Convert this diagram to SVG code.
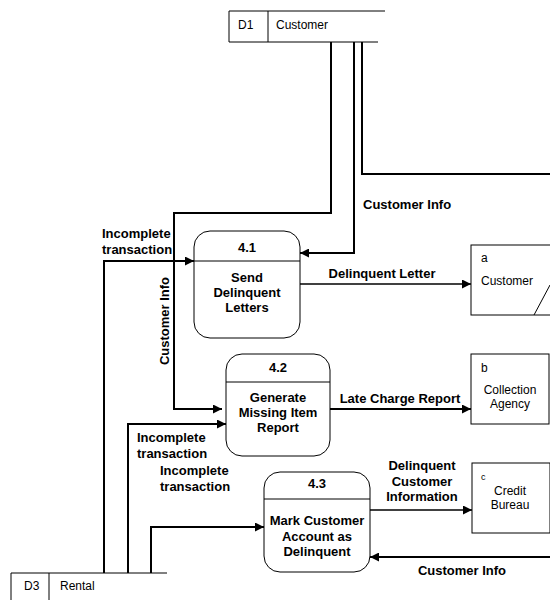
<svg xmlns="http://www.w3.org/2000/svg" width="550" height="600" viewBox="0 0 550 600">
<defs>
<style>
.flow{fill:none;stroke:#000;stroke-width:2}
.thin{fill:none;stroke:#000;stroke-width:1.5}
.box{fill:#fff;stroke:#000;stroke-width:1}
.proc{fill:#fff;stroke:#000;stroke-width:1}
.lbl{font-family:"Liberation Sans",Arial,sans-serif;font-size:13px;font-weight:bold;fill:#000}
.ptxt{font-family:"Liberation Sans",Arial,sans-serif;font-size:13px;font-weight:bold;fill:#000;text-anchor:middle}
.etxt{font-family:"Liberation Sans",Arial,sans-serif;font-size:12px;fill:#000}
</style>
<marker id="ah" viewBox="0 0 10 10" refX="10" refY="5" markerWidth="10" markerHeight="9" markerUnits="userSpaceOnUse" orient="auto">
<path d="M0,0 L10,5 L0,10 Z" fill="#000"/>
</marker>
</defs>
<rect width="550" height="600" fill="#fff"/>

<g id="connectors">
<path class="flow" d="M331,42 V213 H174 V409 H222" marker-end="url(#ah)"/>
<path class="flow" d="M354,42 V253 H300" marker-end="url(#ah)"/>
<path class="flow" d="M362,42 V174 H550"/>
<path class="flow" d="M104,573 V261 H194" marker-end="url(#ah)"/>
<path class="flow" d="M128,573 V424 H226" marker-end="url(#ah)"/>
<path class="flow" d="M151,573 V527 H264" marker-end="url(#ah)"/>
<path class="thin" d="M300,284 H471" marker-end="url(#ah)"/>
<path class="flow" d="M330,409 H471" marker-end="url(#ah)"/>
<path class="thin" d="M370,510 H472" marker-end="url(#ah)"/>
<path class="flow" d="M550,557 H370" marker-end="url(#ah)"/>

<text class="lbl" x="363" y="209">Customer Info</text>
<text class="lbl" x="102" y="238">Incomplete</text>
<text class="lbl" x="102" y="254">transaction</text>
<text class="lbl" transform="translate(169,321) rotate(-90)" text-anchor="middle">Customer Info</text>
<text class="lbl" x="382" y="278" text-anchor="middle">Delinquent Letter</text>
<text class="lbl" x="400" y="403" text-anchor="middle">Late Charge Report</text>
<text class="lbl" x="137" y="442">Incomplete</text>
<text class="lbl" x="137" y="458">transaction</text>
<text class="lbl" x="160" y="475">Incomplete</text>
<text class="lbl" x="160" y="491">transaction</text>
<text class="lbl" x="422" y="470" text-anchor="middle">Delinquent</text>
<text class="lbl" x="422" y="486" text-anchor="middle">Customer</text>
<text class="lbl" x="422" y="501" text-anchor="middle">Information</text>
<text class="lbl" x="462" y="575" text-anchor="middle">Customer Info</text>
</g>

<g id="D1">
<rect x="229" y="11" width="160" height="31" fill="#fff" stroke="none"/>
<path d="M385,11 H229 V42 H378 M268,11 V42" fill="none" stroke="#000" stroke-width="1"/>
<text class="etxt" x="238" y="29">D1</text>
<text class="etxt" x="276" y="29">Customer</text>
</g>

<g id="D3">
<path d="M167,573 H11 V600 M49,573 V600" fill="none" stroke="#000" stroke-width="1"/>
<text class="etxt" x="24" y="590">D3</text>
<text class="etxt" x="60" y="590">Rental</text>
</g>

<g id="p41">
<rect class="proc" x="194" y="231" width="106" height="107" rx="16" ry="16"/>
<line x1="194" y1="261" x2="300" y2="261" stroke="#000" stroke-width="1"/>
<text class="ptxt" x="247" y="252">4.1</text>
<text class="ptxt" x="247" y="282">Send</text>
<text class="ptxt" x="247" y="297">Delinquent</text>
<text class="ptxt" x="247" y="312">Letters</text>
</g>

<g id="p42">
<rect class="proc" x="226" y="354" width="104" height="102" rx="16" ry="16"/>
<line x1="226" y1="382" x2="330" y2="382" stroke="#000" stroke-width="1"/>
<text class="ptxt" x="278" y="372">4.2</text>
<text class="ptxt" x="278" y="402">Generate</text>
<text class="ptxt" x="278" y="417">Missing Item</text>
<text class="ptxt" x="278" y="432">Report</text>
</g>

<g id="p43">
<rect class="proc" x="264" y="472" width="106" height="100" rx="16" ry="16"/>
<line x1="264" y1="499" x2="370" y2="499" stroke="#000" stroke-width="1"/>
<text class="ptxt" x="317" y="488">4.3</text>
<text class="ptxt" x="317" y="525">Mark Customer</text>
<text class="ptxt" x="317" y="541">Account as</text>
<text class="ptxt" x="317" y="556">Delinquent</text>
</g>

<g id="ea">
<rect class="box" x="471" y="245" width="90" height="70"/>
<line x1="534" y1="315" x2="550" y2="285" stroke="#000" stroke-width="1"/>
<text class="etxt" x="481" y="262">a</text>
<text class="etxt" x="507" y="285" text-anchor="middle">Customer</text>
</g>

<g id="eb">
<rect class="box" x="471" y="354" width="78" height="70"/>
<text class="etxt" x="481" y="372">b</text>
<text class="etxt" x="510" y="394" text-anchor="middle">Collection</text>
<text class="etxt" x="510" y="408" text-anchor="middle">Agency</text>
</g>

<g id="ec">
<rect class="box" x="472" y="463" width="78" height="70"/>
<text class="etxt" x="481" y="480" style="font-size:9px">c</text>
<text class="etxt" x="510" y="495" text-anchor="middle">Credit</text>
<text class="etxt" x="510" y="509" text-anchor="middle">Bureau</text>
</g>
</svg>
